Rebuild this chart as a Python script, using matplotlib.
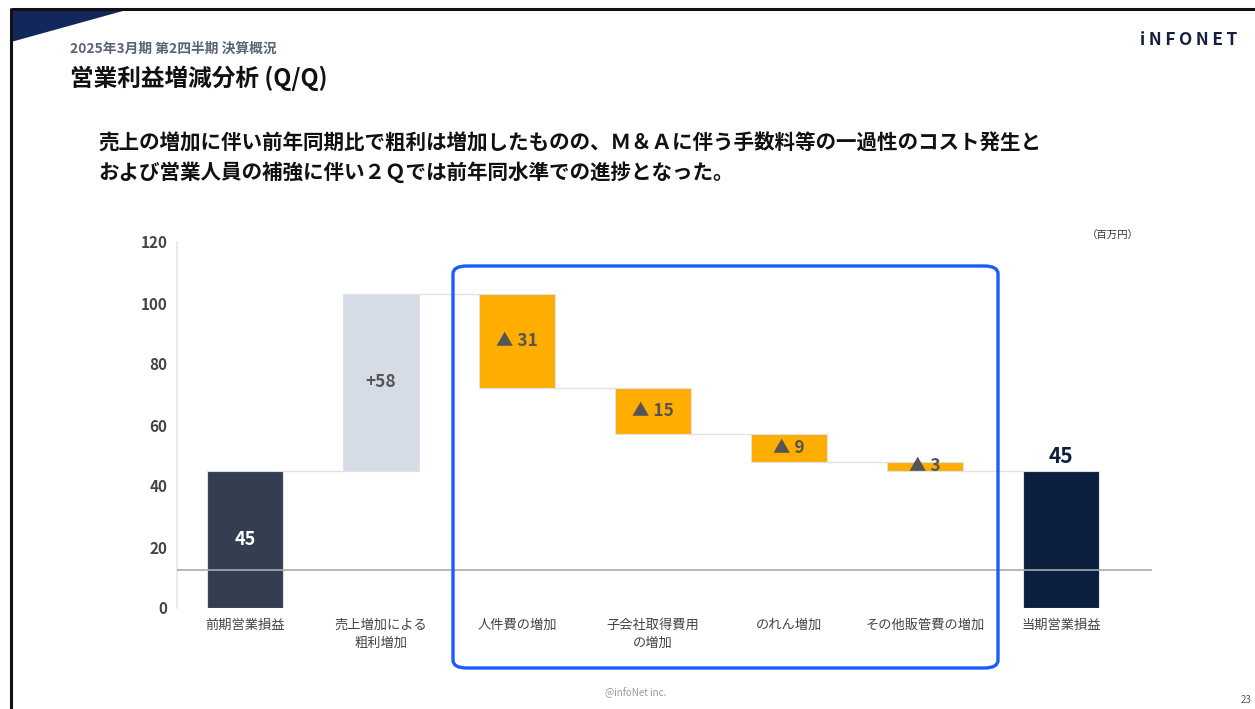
import matplotlib
matplotlib.use("Agg")
import matplotlib.pyplot as plt
from matplotlib.patches import FancyBboxPatch, Polygon
import numpy as np

plt.rcParams['font.family'] = ['Noto Sans CJK JP', 'DejaVu Sans']

# ---- data ----
categories = ["前期営業損益", "売上増加による\n粗利増加", "人件費の増加", "子会社取得費用\nの増加",
              "のれん増加", "その他販管費の増加", "当期営業損益"]
values = [45, 58, -31, -15, -9, -3, 45]
kinds = ["total", "delta", "delta", "delta", "delta", "delta", "total"]
y_ticks = [0, 20, 40, 60, 80, 100, 120]

bar_colors = ["#343e50", "#d6dce6", "#ffae00", "#ffae00", "#ffae00", "#ffae00", "#0b1e3d"]

W, H = 1255, 709
fig = plt.figure(figsize=(W / 100, H / 100), dpi=100)

def px(x, y):
    return x / W, 1 - y / H

# ---- slide frame ----
fig.add_artist(plt.Line2D([11 / W, 1], [1 - 8.5 / H, 1 - 8.5 / H], color="#111111", lw=2.2,
                          transform=fig.transFigure, solid_capstyle="butt"))
fig.add_artist(plt.Line2D([11 / W, 11 / W], [1 - 8 / H, 0], color="#111111", lw=2.2,
                          transform=fig.transFigure, solid_capstyle="butt"))
tri = Polygon([px(11, 9), px(130, 9), px(11, 42)], closed=True, facecolor="#13285a",
              edgecolor="none", transform=fig.transFigure)
fig.add_artist(tri)

# ---- header texts ----
fig.text(*px(70, 49), "2025年3月期 第2四半期 決算概況", fontsize=9.9, fontweight="bold",
         color="#5a6478", va="center", ha="left")
fig.text(*px(70, 78), "営業利益増減分析 (Q/Q)", fontsize=17, fontweight="bold",
         color="#111111", va="center", ha="left")
logo = "\u2009".join("iNFONET")
fig.text(*px(1237, 40), logo, fontsize=12.5, fontweight="bold", color="#14213d",
         va="center", ha="right")
fig.text(*px(98, 143), "売上の増加に伴い前年同期比で粗利は増加したものの、Ｍ＆Ａに伴う手数料等の一過性のコスト発生と",
         fontsize=14.8, fontweight="bold", color="#111111", va="center", ha="left")
fig.text(*px(98, 172), "および営業人員の補強に伴い２Ｑでは前年同水準での進捗となった。",
         fontsize=14.8, fontweight="bold", color="#111111", va="center", ha="left")
fig.text(*px(1139, 236), "（百万円）", fontsize=7.5, color="#333333", va="center", ha="right")
fig.text(*px(636, 693), "@infoNet inc.", fontsize=7, color="#999999", va="center", ha="center")
fig.text(*px(1252, 700), "23", fontsize=7, color="#555555", va="center", ha="right")

# ---- chart ----
ax = fig.add_axes([177 / W, 1 - 608 / H, (1152 - 177) / W, (608 - 242) / H])
x = np.arange(len(categories))
bottoms, heights = [], []
running = 0
for v, k in zip(values, kinds):
    if k == "total":
        bottoms.append(0)
        heights.append(v)
        running = v
    else:
        bottoms.append(running if v >= 0 else running + v)
        heights.append(abs(v))
        running += v

width = 0.56
ax.bar(x, heights, bottom=bottoms, width=width, color=bar_colors, edgecolor="#dde1e8",
       linewidth=0.8, zorder=3)

# connectors
level = 0
levels = []
for v, k in zip(values, kinds):
    level = v if k == "total" else level + v
    levels.append(level)
for i in range(len(x) - 1):
    ax.plot([x[i] + width / 2, x[i + 1] - width / 2], [levels[i], levels[i]],
            color="#e3e3e3", lw=1, zorder=2)

# labels
for i, (v, k) in enumerate(zip(values, kinds)):
    mid = bottoms[i] + heights[i] / 2
    if i == 0:
        ax.text(x[i], mid, f"{v}", ha="center", va="center", color="white",
                fontsize=13, fontweight="bold", zorder=4)
    elif i == len(values) - 1:
        ax.text(x[i], heights[i] + 1.3, f"{v}", ha="center", va="bottom", color="#0b1e3d",
                fontsize=15, fontweight="bold", zorder=4)
    elif v > 0:
        ax.text(x[i], mid, f"+{v}", ha="center", va="center", color="#555555",
                fontsize=12.5, fontweight="bold", zorder=4)
    else:
        ax.text(x[i], mid, f"▲ {abs(v)}", ha="center", va="center", color="#555555",
                fontsize=12.5, fontweight="bold", zorder=4)

ax.axhline(12.5, color="#aaaaaa", lw=1.2, zorder=5)

ax.set_xlim(-0.5, 6.67)
ax.set_ylim(0, 120)
ax.set_yticks(y_ticks)
ax.set_yticklabels([str(t) for t in y_ticks], fontsize=11, fontweight="bold", color="#444444")
ax.set_xticks(x)
ax.set_xticklabels(categories, fontsize=9.5, color="#444444", linespacing=1.5)
ax.tick_params(axis="y", length=0, pad=7)
ax.tick_params(axis="x", length=0, pad=8)
for s in ["top", "right", "bottom"]:
    ax.spines[s].set_visible(False)
ax.spines["left"].set_color("#e6e6e6")
ax.spines["left"].set_linewidth(1.2)
ax.set_facecolor("none")

# blue highlight box
box = FancyBboxPatch(px(453, 668), (998 - 453) / W, (668 - 266) / H,
                     boxstyle="round,pad=0,rounding_size=0.011",
                     transform=fig.transFigure, facecolor="none", edgecolor="#1a5cff",
                     linewidth=2.4, zorder=10)
fig.add_artist(box)

fig.savefig("out.png", dpi=100)
